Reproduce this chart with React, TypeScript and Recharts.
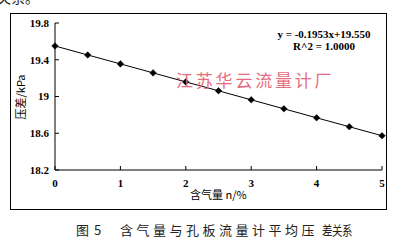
import React from "react";
import { LineChart, Line, XAxis, YAxis } from "recharts";

const gasContent = [0, 0.5, 1, 1.5, 2, 2.5, 3, 3.5, 4, 4.5, 5];
const pressureDiff = [19.55, 19.452, 19.355, 19.257, 19.159, 19.062, 18.964, 18.866, 18.768, 18.671, 18.573];
const xTicks = [0, 1, 2, 3, 4, 5];
const yTicks = [18.2, 18.6, 19, 19.4, 19.8];

const data = gasContent.map((x, i) => ({ x, y: pressureDiff[i] }));

const Diamond = (props: any) => {
  const { cx, cy } = props;
  if (cx == null || cy == null) return null;
  const r = 3.3;
  return (
    <path
      d={`M${cx},${cy - r}L${cx + r},${cy}L${cx},${cy + r}L${cx - r},${cy}Z`}
      fill="#000"
      stroke="#000"
      strokeWidth={0.5}
    />
  );
};

const tickStyle = {
  fontFamily: "'Liberation Serif', serif",
  fontWeight: 700,
  fontSize: 11,
  fill: "#000",
};

const cjk = "'Noto Sans CJK SC', sans-serif";

export default function App() {
  return (
    <div
      style={{
        position: "absolute",
        left: 0,
        top: 0,
        width: 403,
        height: 245,
        background: "#fff",
        overflow: "hidden",
      }}
    >
      <div
        style={{
          position: "absolute",
          left: -3,
          top: -10,
          fontFamily: cjk,
          fontSize: 14,
          lineHeight: "14px",
          color: "#222",
          whiteSpace: "nowrap",
        }}
      >
        关系。
      </div>
      <div
        style={{
          position: "absolute",
          left: 10,
          top: 13,
          width: 377,
          height: 197,
          border: "1px solid #000",
          boxSizing: "border-box",
        }}
      />
      <div style={{ position: "absolute", left: 0, top: 0 }}>
        <LineChart
          width={403}
          height={245}
          data={data}
          margin={{ top: 23, right: 21, bottom: 45, left: 15 }}
        >
          <XAxis
            dataKey="x"
            type="number"
            domain={[0, 5]}
            ticks={xTicks}
            axisLine={{ stroke: "#000", strokeWidth: 1 }}
            tickLine={{ stroke: "#000" }}
            tickSize={-4}
            tickMargin={13}
            height={30}
            tick={tickStyle}
          />
          <YAxis
            type="number"
            domain={[18.2, 19.8]}
            ticks={yTicks}
            axisLine={{ stroke: "#000", strokeWidth: 1 }}
            tickLine={{ stroke: "#000" }}
            tickSize={-4}
            tickMargin={10}
            width={40}
            tick={tickStyle}
          />
          <Line
            dataKey="y"
            stroke="#000"
            strokeWidth={1}
            dot={<Diamond />}
            isAnimationActive={false}
          />
        </LineChart>
      </div>
      <div
        style={{
          position: "absolute",
          left: 14,
          top: 97,
          transform: "translate(0,-50%) rotate(-90deg)",
          transformOrigin: "center",
          fontFamily: cjk,
          fontSize: 11,
          whiteSpace: "nowrap",
          lineHeight: "12px",
          width: 12,
          display: "flex",
          justifyContent: "center",
        }}
      >
        <span>压差/kPa</span>
      </div>
      <div
        style={{
          position: "absolute",
          left: 190,
          top: 187,
          fontFamily: cjk,
          fontSize: 11,
          whiteSpace: "nowrap",
          lineHeight: "14px",
        }}
      >
        含气量 n/%
      </div>
      <div
        style={{
          position: "absolute",
          left: 264,
          top: 28,
          width: 120,
          textAlign: "center",
          fontFamily: "'Liberation Serif', serif",
          fontWeight: 700,
          fontSize: 11,
          lineHeight: "12px",
          whiteSpace: "nowrap",
        }}
      >
        <div>y = -0.1953x+19.550</div>
        <div>R^2 = 1.0000</div>
      </div>
      <div
        style={{
          position: "absolute",
          left: 176,
          top: 69,
          fontFamily: cjk,
          fontSize: 17,
          letterSpacing: 2.8,
          lineHeight: "22px",
          color: "#e66c80",
          whiteSpace: "nowrap",
        }}
      >
        江苏华云流量计厂
      </div>
      <div
        style={{
          position: "absolute",
          left: 0,
          top: 221,
          width: 403,
          height: 20,
          fontFamily: cjk,
          fontSize: 13,
          lineHeight: "18px",
          color: "#222",
          whiteSpace: "pre",
        }}
      >
        <span style={{ position: "absolute", left: 76 }}>图</span>
        <span style={{ position: "absolute", left: 94 }}>5</span>
        <span style={{ position: "absolute", left: 120, letterSpacing: 3.5 }}>
          含气量与孔板流量计平均压
        </span>
        <span
          style={{
            position: "absolute",
            left: 322,
            display: "inline-block",
            transform: "scaleX(0.8)",
            transformOrigin: "left center",
            letterSpacing: -0.5,
          }}
        >
          差关系
        </span>
      </div>
    </div>
  );
}
